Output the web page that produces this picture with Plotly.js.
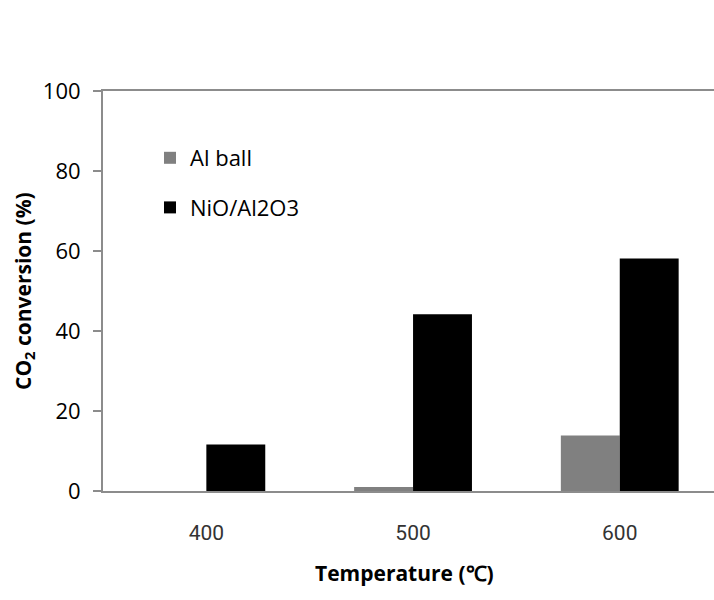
<!DOCTYPE html>
<html>
<head>
<meta charset="utf-8">
<script src="https://cdn.plot.ly/plotly-3.0.1.min.js"></script>
<style>
  html, body { margin: 0; padding: 0; overflow: hidden; background: #fff; }
  #chart { width: 714px; height: 600px; }
</style>
</head>
<body>
<div id="chart"></div>
<script>
// Reaction temperatures (°C) on the category axis
const temperatures = ['400', '500', '600'];
// CO2 conversion (%) for each catalyst bed
const alBall = [0, 1.0, 13.9];
const nioAl2o3 = [11.6, 44.2, 58.1];

const seriesNames = ['Al ball', 'NiO/Al2O3'];
const seriesColors = ['#808080', '#000000'];

const traces = [alBall, nioAl2o3].map((vals, i) => ({
  type: 'bar',
  x: temperatures,
  y: vals,
  name: seriesNames[i],
  legendgroup: 'g' + i,
  marker: { color: seriesColors[i], line: { width: 0 } },
  hoverinfo: 'x+y+name'
}));

const axisGray = '#8c8c8c';
// The plot area runs off the right edge of the figure, so the last
// category slot is cut short: each slot is ~206.7 px wide.
const plotL = 103, plotR = 714;
const plotW = plotR - plotL;
const slotPx = 206.7;

const layout = {
  width: 714,
  height: 600,
  margin: { l: plotL, r: 0, t: 91, b: 109 },
  paper_bgcolor: '#fff',
  plot_bgcolor: '#fff',
  barmode: 'group',
  bargap: 0.43,
  bargroupgap: 0,
  font: { family: 'Open Sans, sans-serif', color: '#000' },
  xaxis: {
    type: 'category',
    range: [-0.5, -0.5 + plotW / slotPx],
    showline: true,
    mirror: true,
    linecolor: axisGray,
    linewidth: 2,
    ticks: '',
    showgrid: false,
    zeroline: false,
    ticklabelstandoff: 22,
    tickfont: { family: 'Roboto, sans-serif', size: 21, color: '#333' }
  },
  yaxis: {
    range: [0, 100],
    dtick: 20,
    ticks: 'outside',
    ticklen: 8,
    tickwidth: 2,
    tickcolor: axisGray,
    showline: true,
    linecolor: axisGray,
    linewidth: 2,
    showgrid: false,
    zeroline: false,
    ticklabelstandoff: 8,
    tickfont: { family: 'Open Sans, sans-serif', size: 22, color: '#000' }
  },
  showlegend: true,
  legend: {
    x: (150 - plotL) / plotW,
    xanchor: 'left',
    y: (491 - 137) / 400,
    yanchor: 'top',
    bgcolor: 'rgba(0,0,0,0)',
    traceorder: 'grouped',
    tracegroupgap: 18,
    font: { family: 'Open Sans, sans-serif', size: 22, color: '#000' }
  },
  annotations: [
    {
      text: '<b>CO<sub>2</sub> conversion (%)</b>',
      xref: 'paper', yref: 'paper',
      x: (24 - plotL) / plotW, y: 0.5,
      xanchor: 'center', yanchor: 'middle',
      textangle: -90,
      showarrow: false,
      font: { family: 'Open Sans, sans-serif', size: 21, color: '#000' }
    },
    {
      text: '<b>Temperature (℃)</b>',
      xref: 'paper', yref: 'paper',
      x: (404 - plotL) / plotW, y: (491 - 573) / 400,
      xanchor: 'center', yanchor: 'middle',
      showarrow: false,
      font: { family: 'Open Sans, sans-serif', size: 21, color: '#000' }
    }
  ]
};

Plotly.newPlot('chart', traces, layout, { displayModeBar: false, staticPlot: true });
</script>
</body>
</html>
